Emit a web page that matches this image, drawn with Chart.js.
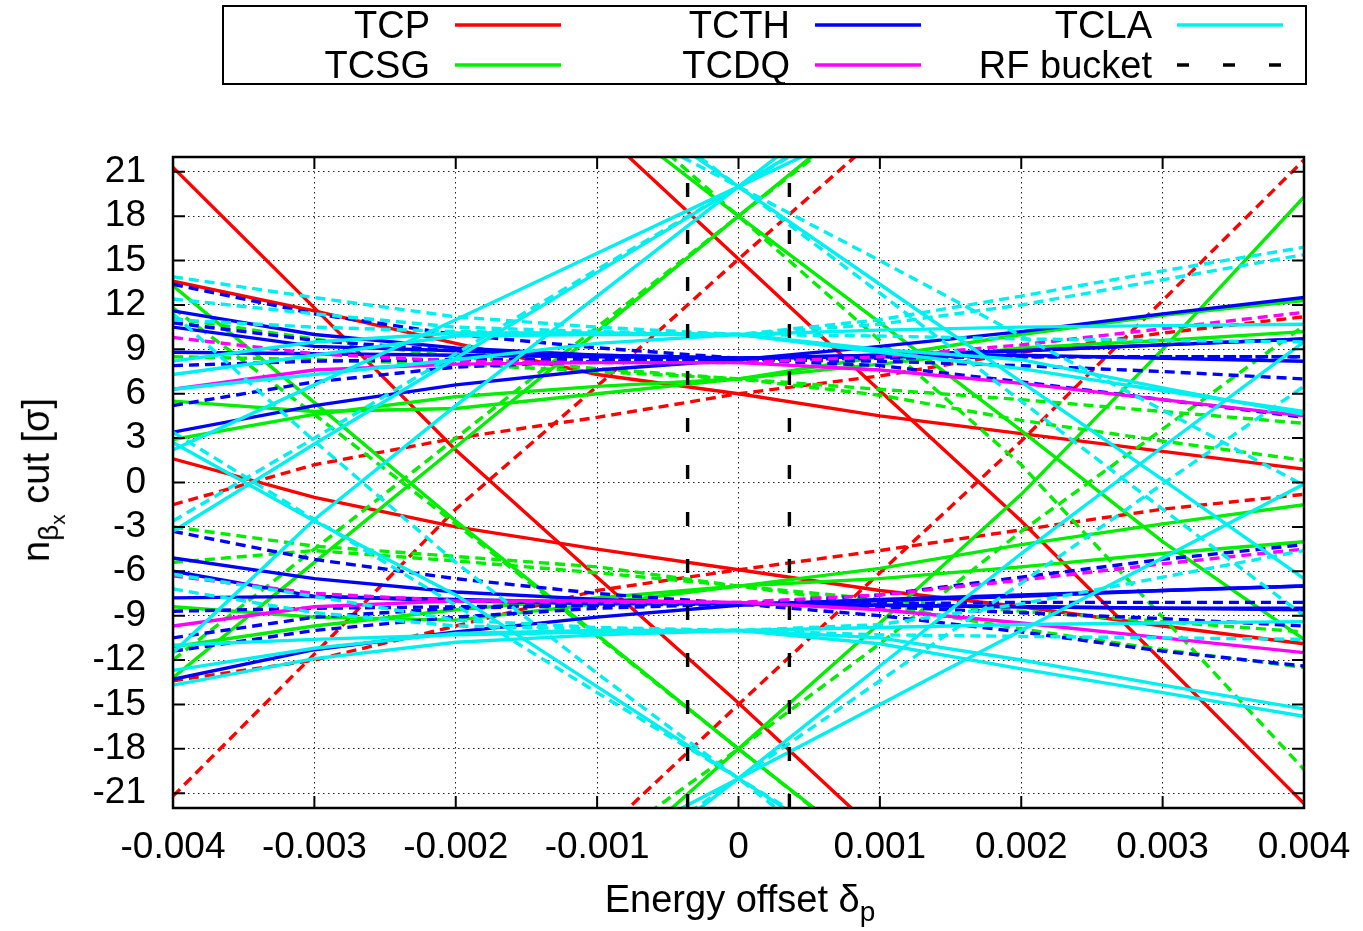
<!DOCTYPE html>
<html>
<head>
<meta charset="utf-8">
<script src="https://cdn.jsdelivr.net/npm/chart.js@4.4.1/dist/chart.umd.min.js"></script>
<style>
  body { margin: 0; background: #fff; }
  #wrap { position: relative; width: 1363px; height: 931px; font-family: "Liberation Sans", Arial, sans-serif; color: #000; }
  #chart { position: absolute; left: 0; top: 0; }
  #legendBox { position: absolute; left: 222px; top: 5px; width: 1081px; height: 76px; border: 2px solid #000; }
  .lg-text { position: absolute; width: 300px; text-align: right; font-size: 38px; line-height: 40px; white-space: nowrap; }
  .lg-line { position: absolute; }
  #ytitle { position: absolute; left: 42px; top: 480px; font-size: 38px; white-space: nowrap;
            transform: translate(-50%, -50%) rotate(-90deg); }
  #ytitle sub { font-size: 28px; }
  #ytitle sub sub { font-size: 21px; }
  #xtitle { position: absolute; left: 740px; top: 903px; font-size: 38px; white-space: nowrap;
            transform: translate(-50%, -50%); }
  #xtitle sub { font-size: 28px; }
</style>
</head>
<body>
<div id="wrap">
  <canvas id="chart" width="1363" height="931"></canvas>
  <div id="legendBox"></div>
  <div id="ytitle">n<sub>β<sub>x</sub></sub> cut [σ]</div>
  <div id="xtitle">Energy offset δ<sub>p</sub></div>
</div>
<script>
// energy offsets where every curve was sampled
const delta = [-0.004, -0.003, -0.002, -0.001, 0, 0.001, 0.002, 0.003, 0.004];

const xTicks = [-0.004, -0.003, -0.002, -0.001, 0, 0.001, 0.002, 0.003, 0.004];
const xTickLabels = ['-0.004', '-0.003', '-0.002', '-0.001', '0', '0.001', '0.002', '0.003', '0.004'];
const yTicks = [-21, -18, -15, -12, -9, -6, -3, 0, 3, 6, 9, 12, 15, 18, 21];

// RF bucket edges (delta)
const rfBucket = [-0.00036, 0.00036];

// TCP
const TCP_solid_1 = [null, null, null, 24.0, 15.1, 6.2, -2.6, -12.1, -21.7];
const TCP_solid_2 = [21.3, 11.8, 2.2, -6.4, -14.9, -23.8, null, null, null];
const TCP_solid_3 = [1.6, -1.0, -3.0, -4.5, -5.9, -7.3, -8.4, -9.7, -10.9];
const TCP_solid_4 = [13.6, 11.6, 9.4, 7.3, 6.0, 4.5, 3.3, 2.1, 0.9];
const TCP_dash_1 = [-21.2, -11.6, -1.8, 6.5, 15.1, 23.5, null, null, null];
const TCP_dash_2 = [null, null, null, -24.0, -15.0, -6.1, 2.8, 12.3, 21.8];
const TCP_dash_3 = [-1.5, 1.2, 3.0, 4.4, 6.0, 7.2, 8.8, 10.1, 11.2];
const TCP_dash_4 = [-13.4, -12.0, -9.7, -7.3, -5.9, -4.6, -3.2, -1.8, -0.8];

// TCSG
const TCSG_solid_1 = [null, null, null, 25.4, 18.0, 10.8, 3.5, -4.0, -10.6];
const TCSG_solid_2 = [-13.2, -5.4, 2.4, 10.2, 18.0, 25.8, null, null, null];
const TCSG_solid_3 = [13.3, 5.4, -2.6, -10.3, -18.0, -25.5, null, null, null];
const TCSG_solid_4 = [null, null, null, -26.5, -18.0, -9.5, -0.8, 9.0, 19.3];
const TCSG_solid_5 = [5.5, 4.8, 5.0, 6.0, 7.0, 8.0, 9.1, 9.6, 10.2];
const TCSG_solid_6 = [2.9, 4.6, 5.8, 6.5, 7.0, 8.5, 10.0, 11.3, 12.3];
const TCSG_solid_7 = [-8.4, -9.1, -9.3, -8.2, -7.0, -5.8, -4.2, -2.8, -1.5];
const TCSG_solid_8 = [-11.1, -9.7, -8.6, -7.8, -7.0, -6.5, -5.7, -4.8, -4.0];
const TCSG_dash_1 = [null, null, null, 26.5, 18.0, 9.6, 1.2, -9.1, -19.4];
const TCSG_dash_2 = [-12.0, -4.5, 3.0, 10.5, 18.0, 25.5, null, null, null];
const TCSG_dash_3 = [11.8, 4.6, -2.8, -10.4, -18.0, -25.6, null, null, null];
const TCSG_dash_4 = [null, null, null, -24.8, -18.0, -10.9, -3.3, 3.6, 10.6];
const TCSG_dash_5 = [11.1, 9.7, 8.5, 7.7, 7.0, 5.9, 4.2, 2.8, 1.5];
const TCSG_dash_6 = [8.5, 8.3, 8.0, 7.5, 7.0, 6.3, 5.6, 4.8, 4.0];
const TCSG_dash_7 = [-3.0, -4.3, -5.0, -5.7, -7.0, -7.9, -8.7, -9.4, -10.1];
const TCSG_dash_8 = [-5.4, -4.6, -5.3, -6.1, -7.0, -8.3, -9.9, -11.3, -12.5];

// TCTH
const TCTH_solid_1 = [3.4, 5.2, 6.6, 7.6, 8.3, 9.2, 10.2, 11.4, 12.5];
const TCTH_solid_2 = [11.6, 10.0, 9.1, 8.6, 8.4, 8.5, 8.6, 8.4, 8.2];
const TCTH_solid_3 = [10.5, 9.2, 8.9, 8.6, 8.4, 8.6, 8.9, 9.3, 9.7];
const TCTH_solid_4 = [8.8, 8.7, 8.6, 8.5, 8.4, 8.6, 8.9, 9.3, 9.7];
const TCTH_solid_5 = [-13.3, -11.3, -10.1, -9.1, -8.3, -7.9, -7.6, -7.3, -7.0];
const TCTH_solid_6 = [-5.1, -6.5, -7.4, -7.9, -8.2, -8.3, -8.4, -8.5, -8.5];
const TCTH_solid_7 = [-6.0, -7.7, -8.0, -8.2, -8.2, -8.0, -7.7, -7.3, -7.0];
const TCTH_solid_8 = [-7.8, -7.7, -7.9, -8.1, -8.2, -8.3, -8.4, -8.5, -8.6];
const TCTH_dash_1 = [13.4, 11.4, 10.0, 9.1, 8.4, 8.5, 8.5, 8.5, 8.5];
const TCTH_dash_2 = [7.9, 8.2, 8.3, 8.3, 8.3, 8.2, 7.9, 7.5, 7.0];
const TCTH_dash_3 = [5.2, 6.8, 7.8, 8.2, 8.3, 8.4, 8.5, 8.5, 8.5];
const TCTH_dash_4 = [10.8, 9.6, 8.9, 8.5, 8.3, 7.9, 6.8, 5.6, 4.4];
const TCTH_dash_5 = [-3.3, -5.2, -6.5, -7.5, -8.2, -9.0, -10.1, -11.4, -12.4];
const TCTH_dash_6 = [-8.7, -8.5, -8.4, -8.3, -8.2, -8.2, -8.1, -8.1, -8.1];
const TCTH_dash_7 = [-10.5, -9.1, -8.5, -8.3, -8.2, -8.4, -8.8, -9.2, -9.7];
const TCTH_dash_8 = [-11.4, -10.0, -9.1, -8.5, -8.2, -7.6, -6.4, -5.2, -4.2];

// TCDQ
const TCDQ_solid_1 = [6.3, 7.6, 8.0, 8.1, 8.1, 7.6, 6.7, 5.6, 4.5];
const TCDQ_solid_2 = [-9.7, -8.4, -8.0, -8.0, -8.1, -8.6, -9.5, -10.5, -11.5];
const TCDQ_dash_1 = [9.8, 8.7, 8.2, 8.1, 8.1, 8.5, 9.3, 10.4, 11.5];
const TCDQ_dash_2 = [-6.3, -7.5, -8.0, -8.1, -8.1, -7.6, -6.6, -5.5, -4.5];

// TCLA
const TCLA_solid_1 = [-3.3, 2.6, 8.4, 14.2, 20.0, 25.8, null, null, null];
const TCLA_solid_2 = [-11.5, -2.5, 5.2, 12.6, 20.0, 27.4, null, null, null];
const TCLA_solid_3 = [2.2, 6.6, 11.0, 15.5, 20.0, 24.5, null, null, null];
const TCLA_solid_4 = [null, null, null, 26.6, 20.0, 13.4, 6.8, 0.2, -6.5];
const TCLA_solid_5 = [2.7, -2.6, -7.6, -13.8, -20.0, -26.2, null, null, null];
const TCLA_solid_6 = [null, null, null, -27.4, -20.0, -12.4, -4.8, 2.4, 9.5];
const TCLA_solid_7 = [null, null, null, -25.0, -20.0, -15.0, -10.0, -5.1, -0.1];
const TCLA_solid_8 = [7.3, 8.6, 9.9, 10.0, 10.0, 9.0, 8.3, 6.4, 4.6];
const TCLA_solid_9 = [6.3, 7.3, 8.3, 9.4, 10.0, 10.3, 10.5, 10.6, 10.7];
const TCLA_solid_10 = [8.2, 9.5, 10.1, 10.1, 10.0, 8.8, 7.7, 6.2, 4.8];
const TCLA_solid_11 = [-13.7, -11.9, -10.8, -10.3, -10.0, -10.9, -12.6, -14.2, -15.8];
const TCLA_solid_12 = [-12.7, -11.2, -10.2, -10.0, -10.0, -10.5, -12.0, -13.7, -15.3];
const TCLA_solid_13 = [-11.0, -10.6, -10.3, -10.1, -10.0, -9.8, -9.6, -9.5, -9.4];
const TCLA_dash_1 = [-2.6, 3.0, 8.7, 14.4, 20.0, 25.6, null, null, null];
const TCLA_dash_2 = [null, null, null, 25.0, 20.0, 15.0, 9.9, 4.9, -0.2];
const TCLA_dash_3 = [null, null, null, 27.2, 20.0, 12.8, 5.5, -1.8, -9.0];
const TCLA_dash_4 = [3.4, -2.5, -8.3, -14.2, -20.0, -25.8, null, null, null];
const TCLA_dash_5 = [11.4, 2.8, -5.4, -12.9, -20.0, -27.5, null, null, null];
const TCLA_dash_6 = [null, null, null, -26.6, -20.0, -13.4, -6.8, -0.1, 6.5];
const TCLA_dash_7 = [13.9, 12.5, 11.2, 10.5, 10.0, 11.0, 12.6, 14.3, 15.9];
const TCLA_dash_8 = [12.4, 11.4, 10.5, 10.2, 10.0, 10.7, 12.0, 13.7, 15.4];
const TCLA_dash_9 = [11.0, 10.5, 10.2, 10.1, 10.0, 9.9, 9.7, 9.6, 9.5];
const TCLA_dash_10 = [-6.2, -7.7, -9.3, -9.8, -10.0, -9.6, -8.2, -6.4, -4.6];
const TCLA_dash_11 = [-7.2, -8.8, -9.7, -9.9, -10.0, -10.3, -10.4, -10.5, -10.6];

const colors = { TCP: '#ff0000', TCSG: '#00ee00', TCTH: '#0000ff', TCDQ: '#ff00ff', TCLA: '#00f0f0', RF: '#000000' };
const drawOrder = { RF: 1, TCLA: 2, TCDQ: 3, TCTH: 4, TCSG: 5, TCP: 6 };

const groups = [
  ['TCP', [TCP_solid_1, TCP_solid_2, TCP_solid_3, TCP_solid_4], [TCP_dash_1, TCP_dash_2, TCP_dash_3, TCP_dash_4]],
  ['TCSG', [TCSG_solid_1, TCSG_solid_2, TCSG_solid_3, TCSG_solid_4, TCSG_solid_5, TCSG_solid_6, TCSG_solid_7, TCSG_solid_8],
           [TCSG_dash_1, TCSG_dash_2, TCSG_dash_3, TCSG_dash_4, TCSG_dash_5, TCSG_dash_6, TCSG_dash_7, TCSG_dash_8]],
  ['TCTH', [TCTH_solid_1, TCTH_solid_2, TCTH_solid_3, TCTH_solid_4, TCTH_solid_5, TCTH_solid_6, TCTH_solid_7, TCTH_solid_8],
           [TCTH_dash_1, TCTH_dash_2, TCTH_dash_3, TCTH_dash_4, TCTH_dash_5, TCTH_dash_6, TCTH_dash_7, TCTH_dash_8]],
  ['TCDQ', [TCDQ_solid_1, TCDQ_solid_2], [TCDQ_dash_1, TCDQ_dash_2]],
  ['TCLA', [TCLA_solid_1, TCLA_solid_2, TCLA_solid_3, TCLA_solid_4, TCLA_solid_5, TCLA_solid_6, TCLA_solid_7,
            TCLA_solid_8, TCLA_solid_9, TCLA_solid_10, TCLA_solid_11, TCLA_solid_12, TCLA_solid_13],
           [TCLA_dash_1, TCLA_dash_2, TCLA_dash_3, TCLA_dash_4, TCLA_dash_5, TCLA_dash_6, TCLA_dash_7, TCLA_dash_8,
            TCLA_dash_9, TCLA_dash_10, TCLA_dash_11]]
];

const legendItems = [
  ['TCP', 'TCP'], ['TCTH', 'TCTH'], ['TCLA', 'TCLA'],
  ['TCSG', 'TCSG'], ['TCDQ', 'TCDQ'], ['RF bucket', 'RF']
];

const yMin = -22, yMax = 22;

const datasets = [];
groups.forEach(([name, solids, dashes]) => {
  const add = (vals, dashed) => datasets.push({
    label: name,
    data: delta.map((d, i) => ({ x: d, y: vals[i] })),
    borderColor: colors[name],
    borderWidth: 3.4,
    borderDash: dashed ? [10, 6] : [],
    pointRadius: 0,
    tension: 0,
    fill: false,
    clip: 0,
    order: drawOrder[name]
  });
  solids.forEach(v => add(v, false));
  dashes.forEach(v => add(v, true));
});
rfBucket.forEach(d => datasets.push({
  label: 'RF bucket',
  data: [{ x: d, y: yMin }, { x: d, y: yMax }],
  borderColor: colors.RF,
  borderWidth: 3.4,
  borderDash: [14, 33],
  pointRadius: 0,
  fill: false,
  clip: 0,
  order: drawOrder.RF
}));

// inward tick marks and the frame, like gnuplot
const framePlugin = {
  id: 'frame',
  afterDraw(chart) {
    const { ctx, chartArea: a, scales: { x, y } } = chart;
    ctx.save();
    ctx.strokeStyle = '#000';
    ctx.lineWidth = 2;
    ctx.beginPath();
    yTicks.forEach(v => {
      const py = y.getPixelForValue(v);
      ctx.moveTo(a.left, py); ctx.lineTo(a.left + 12, py);
      ctx.moveTo(a.right, py); ctx.lineTo(a.right - 12, py);
    });
    xTicks.forEach(v => {
      const px = x.getPixelForValue(v);
      ctx.moveTo(px, a.bottom); ctx.lineTo(px, a.bottom - 12);
      ctx.moveTo(px, a.top); ctx.lineTo(px, a.top + 12);
    });
    ctx.stroke();
    ctx.lineWidth = 2.5;
    ctx.strokeRect(a.left, a.top, a.right - a.left, a.bottom - a.top);
    ctx.restore();
  }
};

Chart.defaults.font.family = "'Liberation Sans', Arial, sans-serif";
Chart.defaults.font.size = 37;
Chart.defaults.color = '#000';

new Chart(document.getElementById('chart').getContext('2d'), {
  type: 'line',
  data: { datasets },
  options: {
    responsive: false,
    animation: false,
    events: [],
    layout: { padding: { top: 157, right: 59, left: 0, bottom: 0 } },
    plugins: { legend: { display: false }, tooltip: { enabled: false } },
    scales: {
      x: {
        type: 'linear', min: -0.004, max: 0.004,
        afterBuildTicks: s => { s.ticks = xTicks.map(v => ({ value: v })); },
        afterFit: s => { s.height = 123; s.paddingLeft = 0; s.paddingRight = 0; },
        ticks: { padding: 18, maxRotation: 0, autoSkip: false, callback: (v, i) => xTickLabels[i] },
        grid: { color: '#222', lineWidth: 1, drawTicks: false },
        border: { display: false, dash: [1.5, 3.5] }
      },
      y: {
        type: 'linear', min: yMin, max: yMax,
        afterBuildTicks: s => { s.ticks = yTicks.map(v => ({ value: v })); },
        afterFit: s => { s.width = 173; s.paddingTop = 0; s.paddingBottom = 0; },
        ticks: { padding: 27, autoSkip: false, callback: v => String(v) },
        grid: { color: '#222', lineWidth: 1, drawTicks: false },
        border: { display: false, dash: [1.5, 3.5] }
      }
    }
  },
  plugins: [framePlugin]
});

// legend: text right-aligned, sample line after it
const wrap = document.getElementById('wrap');
const colRight = [430, 790, 1152];
const rowMid = [25, 65];
legendItems.forEach(([text, key], i) => {
  const cx = colRight[i % 3], cy = rowMid[Math.floor(i / 3)];
  const t = document.createElement('div');
  t.className = 'lg-text';
  t.textContent = text;
  t.style.left = (cx - 300) + 'px';
  t.style.top = (cy - 20) + 'px';
  wrap.appendChild(t);
  const svgNS = 'http://www.w3.org/2000/svg';
  const svg = document.createElementNS(svgNS, 'svg');
  svg.setAttribute('class', 'lg-line');
  svg.setAttribute('width', '106');
  svg.setAttribute('height', '6');
  svg.style.left = (cx + 25) + 'px';
  svg.style.top = (cy - 3) + 'px';
  const ln = document.createElementNS(svgNS, 'line');
  ln.setAttribute('x1', '0'); ln.setAttribute('y1', '3');
  ln.setAttribute('x2', '106'); ln.setAttribute('y2', '3');
  ln.setAttribute('stroke', colors[key]);
  ln.setAttribute('stroke-width', '3.4');
  if (key === 'RF') ln.setAttribute('stroke-dasharray', '12 34');
  svg.appendChild(ln);
  wrap.appendChild(svg);
});
</script>
</body>
</html>
